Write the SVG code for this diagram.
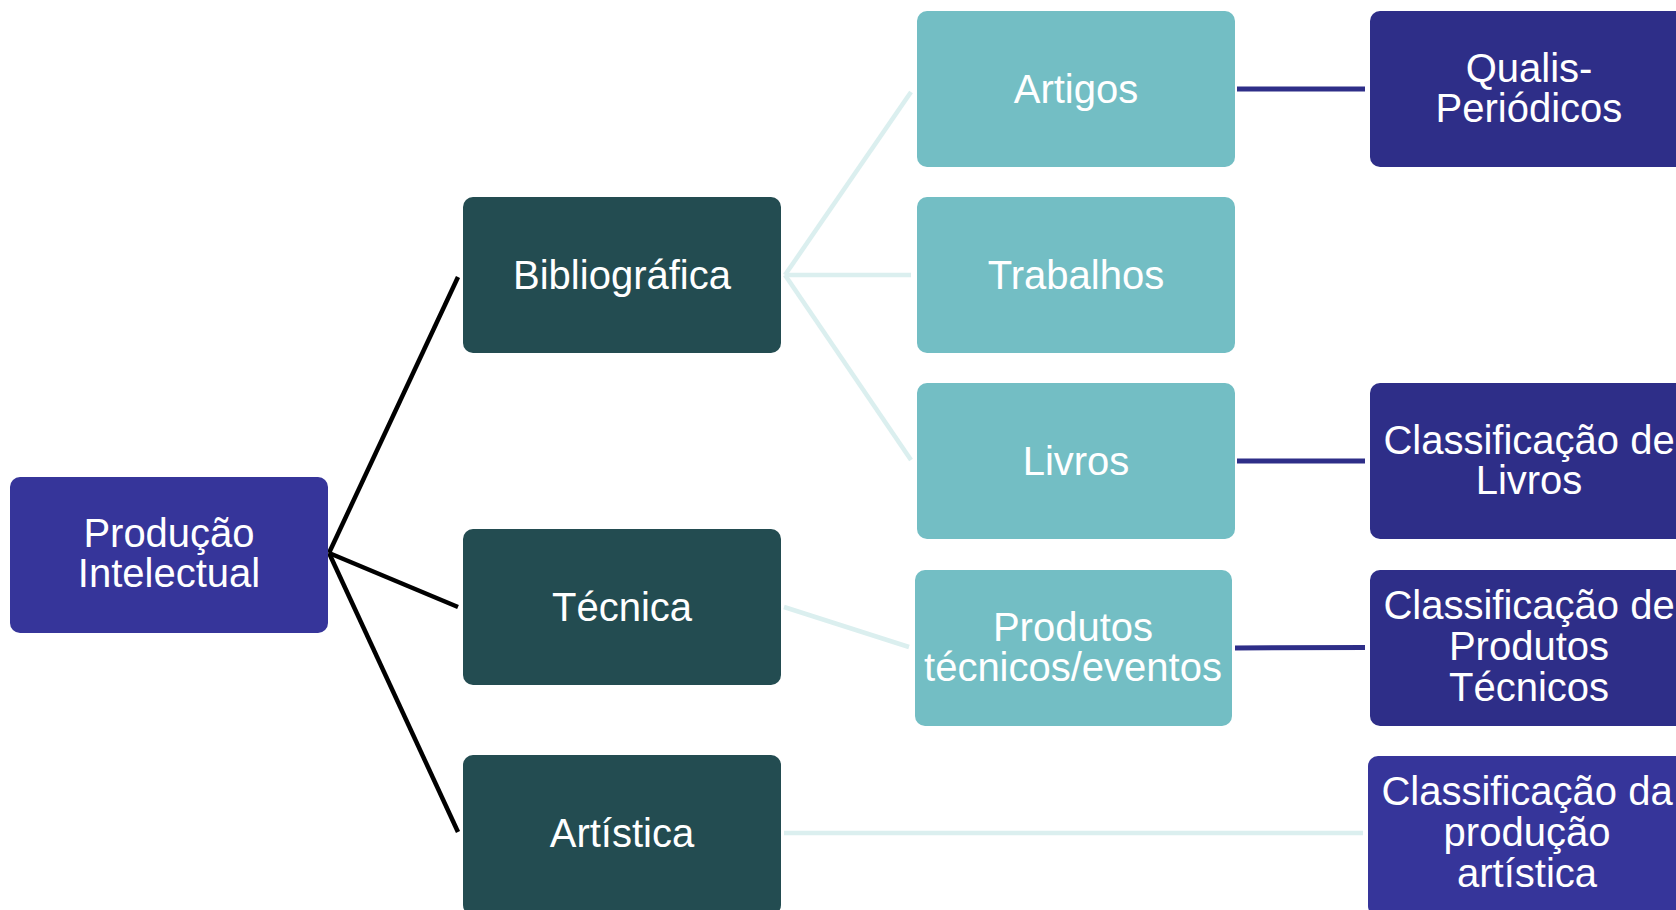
<svg xmlns="http://www.w3.org/2000/svg" width="1676" height="910" viewBox="0 0 1676 910">
<style>
text{font-family:"Liberation Sans",Arial,sans-serif;font-size:40px;fill:#ffffff;text-anchor:middle}
.root{fill:#36359a}
.mid{fill:#234c51}
.leaf{fill:#73bec4}
.cls{fill:#2e2e88}
.cls2{fill:#36359a}
.blk{stroke:#000000;stroke-width:4.5;fill:none}
.lt{stroke:#dbefef;stroke-width:4.5;fill:none}
.db{stroke:#2e2e88;stroke-width:5;fill:none}
</style>
<rect width="1676" height="910" fill="#ffffff"/>
<g id="connectors">
<path class="blk" d="M329,553 L458,277"/>
<path class="blk" d="M329,553 L458,607"/>
<path class="blk" d="M329,553 L458,832"/>
<path class="lt" d="M785,275 L911,92"/>
<path class="lt" d="M785,275 L911,275"/>
<path class="lt" d="M785,275 L911,460"/>
<path class="lt" d="M784,607 L909,647"/>
<path class="lt" d="M784,833 L1363,833"/>
<path class="db" d="M1237,89 L1365,89"/>
<path class="db" d="M1237,461 L1365,461"/>
<path class="db" d="M1235,648 L1365,647.5"/>
</g>
<g id="producao">
<rect class="root" x="10" y="477" width="318" height="156" rx="10"/>
<text x="169" y="547">Produção</text>
<text x="169" y="587">Intelectual</text>
</g>
<g id="bibliografica">
<rect class="mid" x="463" y="197" width="318" height="156" rx="10"/>
<text x="622" y="289">Bibliográfica</text>
</g>
<g id="tecnica">
<rect class="mid" x="463" y="529" width="318" height="156" rx="10"/>
<text x="622" y="621">Técnica</text>
</g>
<g id="artistica">
<rect class="mid" x="463" y="755" width="318" height="160" rx="10"/>
<text x="622" y="847">Artística</text>
</g>
<g id="artigos">
<rect class="leaf" x="917" y="11" width="318" height="156" rx="10"/>
<text x="1076" y="103">Artigos</text>
</g>
<g id="trabalhos">
<rect class="leaf" x="917" y="197" width="318" height="156" rx="10"/>
<text x="1076" y="289">Trabalhos</text>
</g>
<g id="livros">
<rect class="leaf" x="917" y="383" width="318" height="156" rx="10"/>
<text x="1076" y="475">Livros</text>
</g>
<g id="produtos">
<rect class="leaf" x="915" y="570" width="317" height="156" rx="10"/>
<text x="1073" y="641">Produtos</text>
<text x="1073" y="681">técnicos/eventos</text>
</g>
<g id="qualis">
<rect class="cls" x="1370" y="11" width="318" height="156" rx="10"/>
<text x="1529" y="82">Qualis-</text>
<text x="1529" y="122">Periódicos</text>
</g>
<g id="class-livros">
<rect class="cls" x="1370" y="383" width="318" height="156" rx="10"/>
<text x="1529" y="454">Classificação de</text>
<text x="1529" y="494">Livros</text>
</g>
<g id="class-produtos">
<rect class="cls" x="1370" y="570" width="318" height="156" rx="10"/>
<text x="1529" y="619">Classificação de</text>
<text x="1529" y="660">Produtos</text>
<text x="1529" y="701">Técnicos</text>
</g>
<g id="class-artistica">
<rect class="cls2" x="1368" y="756" width="320" height="160" rx="10"/>
<text x="1527" y="805">Classificação da</text>
<text x="1527" y="846">produção</text>
<text x="1527" y="887">artística</text>
</g>
</svg>
